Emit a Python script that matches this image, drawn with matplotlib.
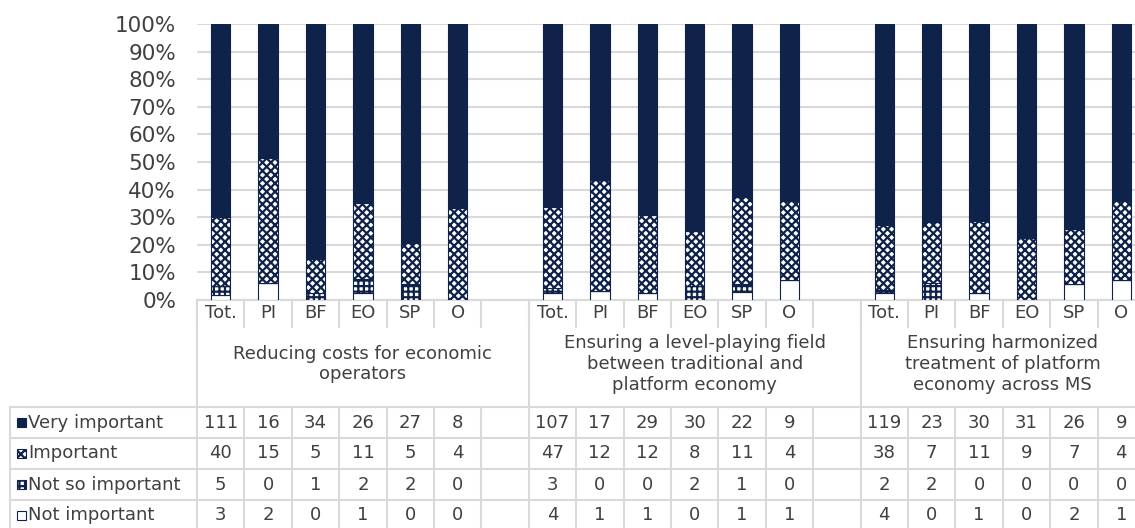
import matplotlib
matplotlib.use("Agg")
import matplotlib.pyplot as plt
from matplotlib.patches import Rectangle
from matplotlib.lines import Line2D
from matplotlib.transforms import blended_transform_factory
import numpy as np

# ---------------- data ----------------
group_labels = [
    "Reducing costs for economic\noperators",
    "Ensuring a level-playing field\nbetween traditional and\nplatform economy",
    "Ensuring harmonized\ntreatment of platform\neconomy across MS",
]
categories = ["Tot.", "PI", "BF", "EO", "SP", "O", "",
              "Tot.", "PI", "BF", "EO", "SP", "O", "",
              "Tot.", "PI", "BF", "EO", "SP", "O"]
series_names = ["Very important", "Important", "Not so important", "Not important"]
very_important = [111, 16, 34, 26, 27, 8, None, 107, 17, 29, 30, 22, 9, None, 119, 23, 30, 31, 26, 9]
important = [40, 15, 5, 11, 5, 4, None, 47, 12, 12, 8, 11, 4, None, 38, 7, 11, 9, 7, 4]
not_so_important = [5, 0, 1, 2, 2, 0, None, 3, 0, 0, 2, 1, 0, None, 2, 2, 0, 0, 0, 0]
not_important = [3, 2, 0, 1, 0, 0, None, 4, 1, 1, 0, 1, 1, None, 4, 0, 1, 0, 2, 1]
y_ticks = [0, 10, 20, 30, 40, 50, 60, 70, 80, 90, 100]

# ---------------- style ----------------
W, H, DPI = 1135, 528, 100
NAVY = "#0F2249"
GRID = "#D9D9D9"
TXT = "#404040"
plt.rcParams["font.family"] = "DejaVu Sans"
plt.rcParams["hatch.linewidth"] = 1.6
FS = 13

styles = {
    "Very important": dict(facecolor=NAVY, edgecolor=NAVY, hatch=None),
    "Important": dict(facecolor="white", edgecolor=NAVY, hatch="xxxx"),
    "Not so important": dict(facecolor="white", edgecolor=NAVY, hatch="+++"),
    "Not important": dict(facecolor="white", edgecolor=NAVY, hatch=None),
}

fig = plt.figure(figsize=(W / DPI, H / DPI), dpi=DPI)

col_w = 47.4
ax_left, ax_top, ax_bottom = 197, 24, 300
n = len(categories)
ax = fig.add_axes([ax_left / W, 1 - ax_bottom / H, n * col_w / W, (ax_bottom - ax_top) / H])

x = np.arange(n)
valid = np.array([v is not None for v in very_important])
arr = {name: np.array([0 if v is None else v for v in vals], dtype=float)
       for name, vals in zip(series_names,
                             [very_important, important, not_so_important, not_important])}
total = sum(arr.values())
total[total == 0] = 1

bottom = np.zeros(n)
for name in reversed(series_names):
    pct = arr[name] / total * 100
    st = styles[name]
    ax.bar(x[valid], pct[valid], bottom=bottom[valid], width=0.41,
           facecolor=st["facecolor"], edgecolor=st["edgecolor"], hatch=st["hatch"],
           linewidth=0.8, zorder=3)
    bottom += pct

ax.set_xlim(-0.5, n - 0.5)
ax.set_ylim(0, 100)
ax.set_yticks(y_ticks)
ax.set_yticklabels([f"{t}%" for t in y_ticks], fontsize=15.5, color=TXT)
ax.tick_params(axis="y", length=0, pad=15)
ax.set_xticks([])
ax.grid(axis="y", color=GRID, linewidth=1.5, zorder=0)
ax.set_axisbelow(True)
for s in ["top", "right", "left"]:
    ax.spines[s].set_visible(False)
ax.spines["bottom"].set_color(GRID)
ax.spines["bottom"].set_linewidth(1.5)

# ---------------- data table ----------------
blend = blended_transform_factory(ax.transData, fig.transFigure)
fy = lambda py: 1 - py / H
fx = lambda px: px / W

def vline(xd, y0, y1):
    fig.add_artist(Line2D([xd, xd], [fy(y0), fy(y1)], transform=blend,
                          color=GRID, linewidth=1.5))

def hline(y):
    fig.add_artist(Line2D([fx(10), 1], [fy(y), fy(y)], transform=fig.transFigure,
                          color=GRID, linewidth=1.5))

tick_row_bottom = 327
group_row_bottom = 407
row_edges = [407, 438, 469, 500, 531]

# category tick labels
for i, c in enumerate(categories):
    ax.text(i, fy(313), c, transform=blend, ha="center", va="center",
            fontsize=FS, color=TXT)

# group boundaries
blank_idx = [i for i, c in enumerate(categories) if c == ""]
starts = [0] + [b + 1 for b in blank_idx]
ends = [b for b in blank_idx] + [n - 1]
for i in range(n + 1):
    vline(i - 0.5, ax_bottom, tick_row_bottom)
for s in starts:
    vline(s - 0.5, ax_bottom, group_row_bottom)
for gl, s, e in zip(group_labels, starts, ends):
    ax.text((s + e) / 2, fy(364), gl, transform=blend, ha="center", va="center",
            fontsize=FS, color=TXT, linespacing=1.2)

# rows
for y in row_edges[:-1]:
    hline(y)
fig.add_artist(Line2D([fx(10), fx(10)], [fy(row_edges[0]), fy(row_edges[-1])],
                      transform=fig.transFigure, color=GRID, linewidth=1.5))
for i in range(n + 1):
    vline(i - 0.5, row_edges[0], row_edges[-1])

series_vals = [very_important, important, not_so_important, not_important]
for r, (name, vals) in enumerate(zip(series_names, series_vals)):
    yc = (row_edges[r] + row_edges[r + 1]) / 2
    st = styles[name]
    fig.add_artist(Rectangle((fx(17), fy(yc + 4.5)), 9 / W, 9 / H, transform=fig.transFigure,
                             facecolor=st["facecolor"], edgecolor=st["edgecolor"],
                             hatch=st["hatch"], linewidth=0.8))
    fig.text(fx(28), fy(yc), name, ha="left", va="center", fontsize=FS, color=TXT)
    for i, v in enumerate(vals):
        if v is None:
            continue
        ax.text(i, fy(yc), str(v), transform=blend, ha="center", va="center",
                fontsize=FS, color=TXT)

fig.savefig("out.png", dpi=DPI)
